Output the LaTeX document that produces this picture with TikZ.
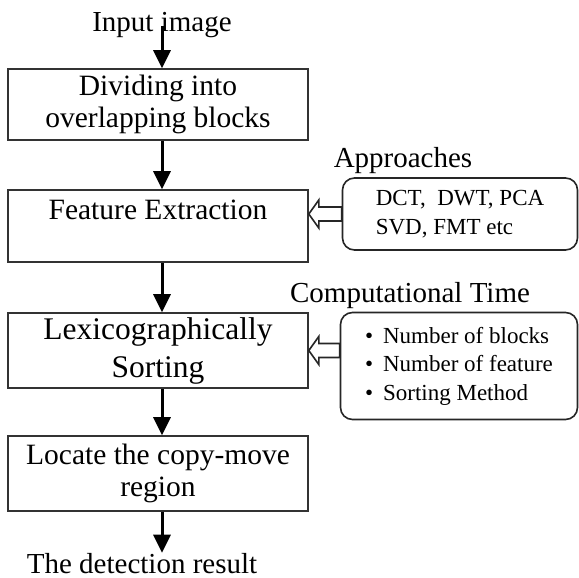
\documentclass[tikz,border=0pt]{standalone}
\usepackage{fontspec}
\setmainfont{Liberation Serif}
\usetikzlibrary{arrows.meta,calc}

\begin{document}
\begin{tikzpicture}[x=1pt, y=-1pt,
  stage/.style={draw=black!80, line width=1.6pt, minimum width=300pt, inner sep=0pt,
    align=center, font=\fontsize{29.5}{32}\selectfont},
  sidebox/.style={draw=black!85, line width=1.6pt, rounded corners=12pt, inner sep=0pt,
    align=left, font=\fontsize{23}{28.5}\selectfont},
  caption/.style={inner sep=0pt, font=\fontsize{29}{34}\selectfont},
  flow/.style={arrows={-Triangle[length=18pt,width=17pt]}, line width=3pt},
  hollow/.style={draw=black!85, line width=1.6pt, fill=white, line join=miter}]
\useasboundingbox (0,0) rectangle (579,578);

\node[caption, anchor=base] at (162,32) (input) {Input image};
\node[stage, minimum height=71pt] at (158,104.5) (divide) {Dividing into\\overlapping blocks};
\node[stage, minimum height=72pt] at (158,226) (feature) {Feature Extraction\\\mbox{}};
\node[stage, minimum height=75pt, font=\fontsize{31.5}{38}\selectfont] at (158,350.5) (sort)
  {Lexicographically\\Sorting};
\node[stage, minimum height=75pt] at (158,473.5) (locate) {Locate the copy-move\\region};
\node[caption, anchor=base] at (142,573) (result) {The detection result};

\draw[flow] (input.center) -- (input.center |- divide.north);
\draw[flow] (divide.south -| input) -- (feature.north -| input);
\draw[flow] (feature.south -| input) -- (sort.north -| input);
\draw[flow] (sort.south -| input) -- (locate.north -| input);
\draw[flow] (locate.south -| input) -- (result.north -| input);

%side notes
\node[caption, anchor=base] at (403,167) (apprlabel) {Approaches};
\node[sidebox, minimum width=235pt, minimum height=72pt] at (460,214) (appr)
  {DCT,\ \ DWT, PCA\\SVD, FMT etc};
\node[caption, anchor=base] at (410,302) (timelabel) {Computational Time};
\node[sidebox, minimum width=237pt, minimum height=107pt] at (459,366) (cost)
  {\textbullet\hspace{10pt}Number of blocks\\
   \textbullet\hspace{10pt}Number of feature\\
   \textbullet\hspace{10pt}Sorting Method};

%open arrows into the main column
\coordinate (tipA) at (feature.east |- appr.west);
\draw[hollow] (tipA) -- ++(10,-14) -- ++(0,7) -- ([yshift=7pt]appr.west)
  -- ([yshift=-7pt]appr.west) -- ($(tipA)+(10,7)$) -- ++(0,7) -- cycle;
\coordinate (tipB) at (sort.east);
\coordinate (tailB) at (cost.west |- sort.east);
\draw[hollow] (tipB) -- ++(10,-14) -- ++(0,7) -- ([yshift=7pt]tailB)
  -- ([yshift=-7pt]tailB) -- ($(tipB)+(10,7)$) -- ++(0,7) -- cycle;
\end{tikzpicture}
\end{document}
